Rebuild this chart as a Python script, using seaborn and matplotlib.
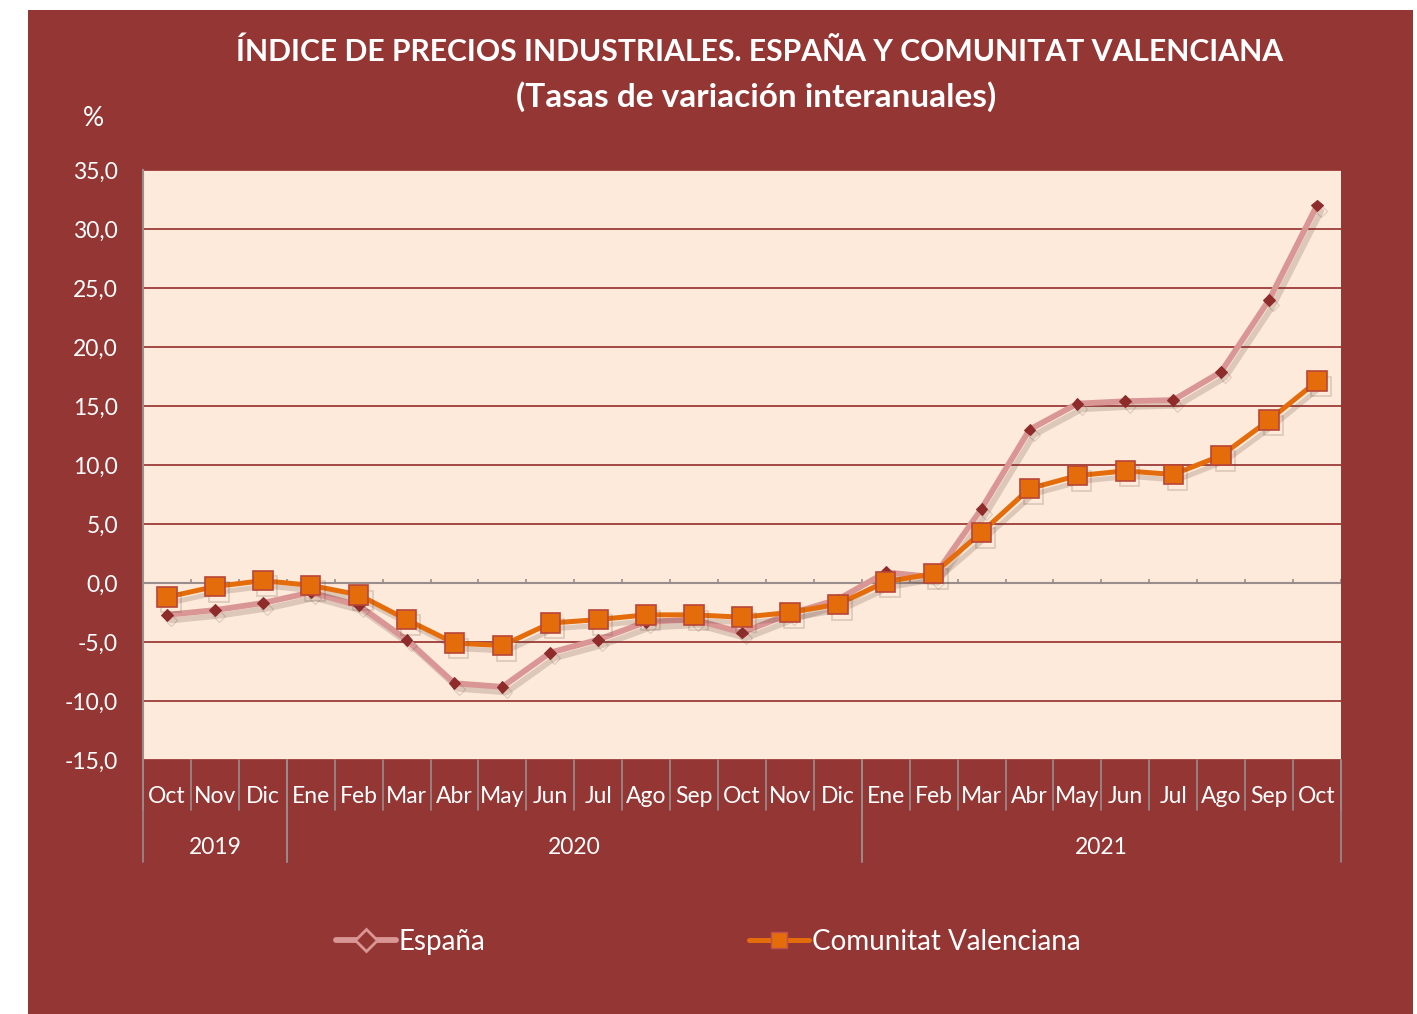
import matplotlib
matplotlib.use("Agg")
import matplotlib.pyplot as plt
import matplotlib.patheffects as pe
from matplotlib.lines import Line2D
import pandas as pd
import seaborn as sns

# datos
meses = ['Oct', 'Nov', 'Dic',
         'Ene', 'Feb', 'Mar', 'Abr', 'May', 'Jun', 'Jul', 'Ago', 'Sep', 'Oct', 'Nov', 'Dic',
         'Ene', 'Feb', 'Mar', 'Abr', 'May', 'Jun', 'Jul', 'Ago', 'Sep', 'Oct']
anios = ['2019', '2020', '2021']
meses_por_anio = [3, 12, 10]
espana = [-2.7, -2.3, -1.7,
          -0.8, -1.9, -4.8, -8.5, -8.8, -5.9, -4.8, -3.3, -3.1, -4.2, -2.6, -1.4,
          0.9, 0.5, 6.3, 13.0, 15.2, 15.4, 15.5, 17.9, 24.0, 32.0]
valenciana = [-1.2, -0.3, 0.2,
              -0.2, -1.0, -3.1, -5.1, -5.3, -3.4, -3.1, -2.7, -2.7, -2.9, -2.5, -1.8,
              0.1, 0.8, 4.3, 8.0, 9.1, 9.5, 9.2, 10.8, 13.8, 17.1]
yticks = [-15, -10, -5, 0, 5, 10, 15, 20, 25, 30, 35]

FONDO = '#943634'
AREA = '#FDEADA'
ROSA = '#D99694'
NARANJA = '#E46C0A'
BLANCO = '#FFFFFF'
GRIS = '#9a8d8d'

sns.set_style('white')
plt.rcParams['font.family'] = ['Lato', 'DejaVu Sans']

df = pd.DataFrame({'x': range(len(meses)), 'esp': espana, 'cv': valenciana})

fig = plt.figure(figsize=(14.17, 10.14), dpi=100)
fig.patch.set_facecolor('white')
fig.patches.append(plt.Rectangle((28 / 1417, 0), (1413 - 28) / 1417, 1 - 10 / 1014,
                                 transform=fig.transFigure, facecolor=FONDO,
                                 edgecolor='none', zorder=-5))
ax = fig.add_axes([143 / 1417, 1 - 760 / 1014, (1341 - 143) / 1417, (760 - 170) / 1014])
ax.set_zorder(1)
ax.set_facecolor(AREA)

sombra = [pe.SimpleLineShadow(offset=(3, -4), shadow_color='#5a3f35', alpha=0.2), pe.Normal()]

sns.lineplot(data=df, x='x', y='esp', ax=ax, color=ROSA, lw=4.2, marker='D', ms=6,
             markerfacecolor='#8E2B2B', markeredgecolor='#8E2B2B', zorder=4,
             path_effects=sombra)
sns.lineplot(data=df, x='x', y='cv', ax=ax, color=NARANJA, lw=3.6, marker='s', ms=14,
             markerfacecolor=NARANJA, markeredgecolor='#B8463A', markeredgewidth=1.2,
             zorder=5, path_effects=sombra)

ax.set_xlim(-0.5, len(meses) - 0.5)
ax.set_ylim(-15, 35)
ax.set_yticks(yticks)
ax.set_yticklabels([f'{v:.1f}'.replace('.', ',') for v in yticks], color=BLANCO, fontsize=16.5)
ax.yaxis.grid(True, color='#8B1C1C', lw=1.1)
ax.set_axisbelow(True)
ax.axhline(0, color=GRIS, lw=1.5, zorder=2)
ax.vlines([i - 0.5 for i in range(1, len(meses) + 1)], 0, 0.35, color=GRIS, lw=1.2, zorder=2)
ax.tick_params(axis='y', length=7, width=1.3, color=GRIS, pad=11)

ax.set_xticks(range(len(meses)))
ax.set_xticklabels(meses, color=BLANCO, fontsize=16.5)
ax.tick_params(axis='x', length=0, pad=19)
ax.set_xlabel('')
ax.set_ylabel('')
for s in ['top', 'right', 'bottom']:
    ax.spines[s].set_visible(False)
ax.spines['left'].set_color(GRIS)
ax.spines['left'].set_linewidth(1.5)

# separadores del eje de categorias
tr = ax.get_xaxis_transform()
for i in range(len(meses) + 1):
    ax.plot([i - 0.5, i - 0.5], [0, -0.085], transform=tr, color=GRIS, lw=1.2, clip_on=False)
inicio = 0
for anio, n in zip(anios, meses_por_anio):
    for b in (inicio - 0.5, inicio + n - 0.5):
        ax.plot([b, b], [0, -0.173], transform=tr, color=GRIS, lw=1.2, clip_on=False)
    ax.text(inicio + (n - 1) / 2, -0.149, anio, transform=tr, ha='center', va='center',
            color=BLANCO, fontsize=16.5)
    inicio += n

fig.text(760 / 1417, 1 - 52 / 1014, 'ÍNDICE DE PRECIOS INDUSTRIALES. ESPAÑA Y COMUNITAT VALENCIANA',
         ha='center', va='center', color=BLANCO, fontsize=21.7, fontweight='bold')
fig.text(756 / 1417, 1 - 97 / 1014, '(Tasas de variación interanuales)',
         ha='center', va='center', color=BLANCO, fontsize=24, fontweight='bold')
fig.text(93 / 1417, 1 - 118 / 1014, '%', ha='center', va='center', color=BLANCO, fontsize=19)

h = [Line2D([], [], color=ROSA, lw=4.2, marker='D', ms=11, markerfacecolor=FONDO,
            markeredgecolor=ROSA, markeredgewidth=2),
     Line2D([], [], color=NARANJA, lw=3.6, marker='s', ms=12, markerfacecolor=NARANJA,
            markeredgecolor='#C0504D')]
leg = fig.legend(h, ['España', 'Comunitat Valenciana'], loc='center',
                 bbox_to_anchor=(708 / 1417, 1 - 942 / 1014), ncol=2,
                 frameon=False, fontsize=20, handlelength=2.15, columnspacing=9.5, handletextpad=0.1)
for t in leg.get_texts():
    t.set_color(BLANCO)

fig.savefig('out.png', dpi=100, facecolor=fig.get_facecolor())
